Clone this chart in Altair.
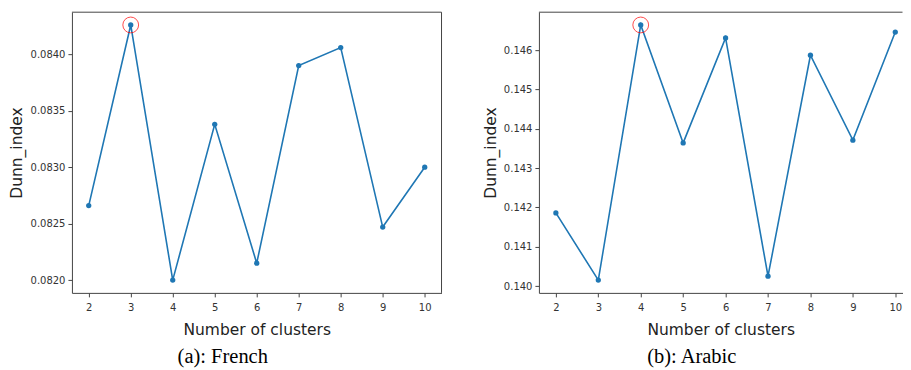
import altair as alt
import pandas as pd

clusters = [2, 3, 4, 5, 6, 7, 8, 9, 10]
french = [0.08266, 0.08426, 0.08200, 0.08338, 0.08215, 0.08390, 0.08406, 0.08247, 0.08300]
arabic = [0.14186, 0.14015, 0.14664, 0.14364, 0.14631, 0.14025, 0.14587, 0.14371, 0.14646]
french_ticks = [0.0820, 0.0825, 0.0830, 0.0835, 0.0840]
arabic_ticks = [0.140, 0.141, 0.142, 0.143, 0.144, 0.145, 0.146]
captions = ["(a): French", "(b): Arabic"]

BLUE = "#1f77b4"
FRAME = "#444"
H = 281


def panel(values, ticks, fmt, caption, width, xmax, dx, right_border):
    df = pd.DataFrame({"k": clusters, "v": values})
    lo, hi = min(values), max(values)
    m = (hi - lo) * 0.05
    best = df[df["v"] == hi]
    xs = alt.Scale(domain=[1.6, xmax], nice=False, zero=False)
    ys = alt.Scale(domain=[lo - m, hi + m], nice=False, zero=False)
    x = alt.X("k:Q", scale=xs, title="Number of clusters",
              axis=alt.Axis(values=clusters, format="d"))
    y = alt.Y("v:Q", scale=ys, title="Dunn_index",
              axis=alt.Axis(values=ticks, format=fmt))
    base = alt.Chart(df).encode(x=x, y=y)
    line = base.mark_line(color=BLUE, strokeWidth=1.6, clip=True)
    pts = base.mark_circle(color=BLUE, size=28, opacity=1)
    ring = alt.Chart(best).mark_point(shape="circle", color="red", size=250,
                                      strokeWidth=1, filled=False).encode(
        x=alt.X("k:Q", scale=xs), y=alt.Y("v:Q", scale=ys))
    top = alt.Chart(best).mark_rule(color=FRAME, strokeWidth=1).encode(
        x=alt.value(0), x2=alt.value(width), y=alt.value(0))
    layers = [line, pts, ring, top]
    if right_border:
        layers.append(alt.Chart(best).mark_rule(color=FRAME, strokeWidth=1).encode(
            x=alt.value(width), y=alt.value(0), y2=alt.value(H)))
    return alt.layer(*layers).properties(
        width=width, height=H,
        title=alt.TitleParams(caption, orient="bottom", anchor="middle",
                              font="Liberation Serif", fontSize=20.5,
                              fontWeight="normal", color="black",
                              offset=9, dx=dx),
    )


left = panel(french, french_ticks, ".4f", captions[0], 370, 10.4, -34, True)
right = panel(arabic, arabic_ticks, ".3f", captions[1], 364, 10.17, -29, False)

chart = alt.hconcat(left, right, spacing=40.5).properties(
    padding={"top": 3, "left": 2, "right": 0, "bottom": 0}
).configure_view(
    strokeWidth=0
).configure_axis(
    grid=False, domain=True, domainColor=FRAME, domainWidth=1,
    tickColor=FRAME, tickSize=4,
    labelFont="DejaVu Sans", labelFontSize=10, labelColor="#333",
    labelPadding=3, titleFont="DejaVu Sans", titleFontSize=15.5,
    titleFontWeight="normal", titleColor="#222", titlePadding=6
).configure_axisX(
    labelPadding=6, titlePadding=10
).configure_axisY(
    titlePadding=5
)

chart.save("out.html", embed_options={"renderer": "svg", "actions": False})
